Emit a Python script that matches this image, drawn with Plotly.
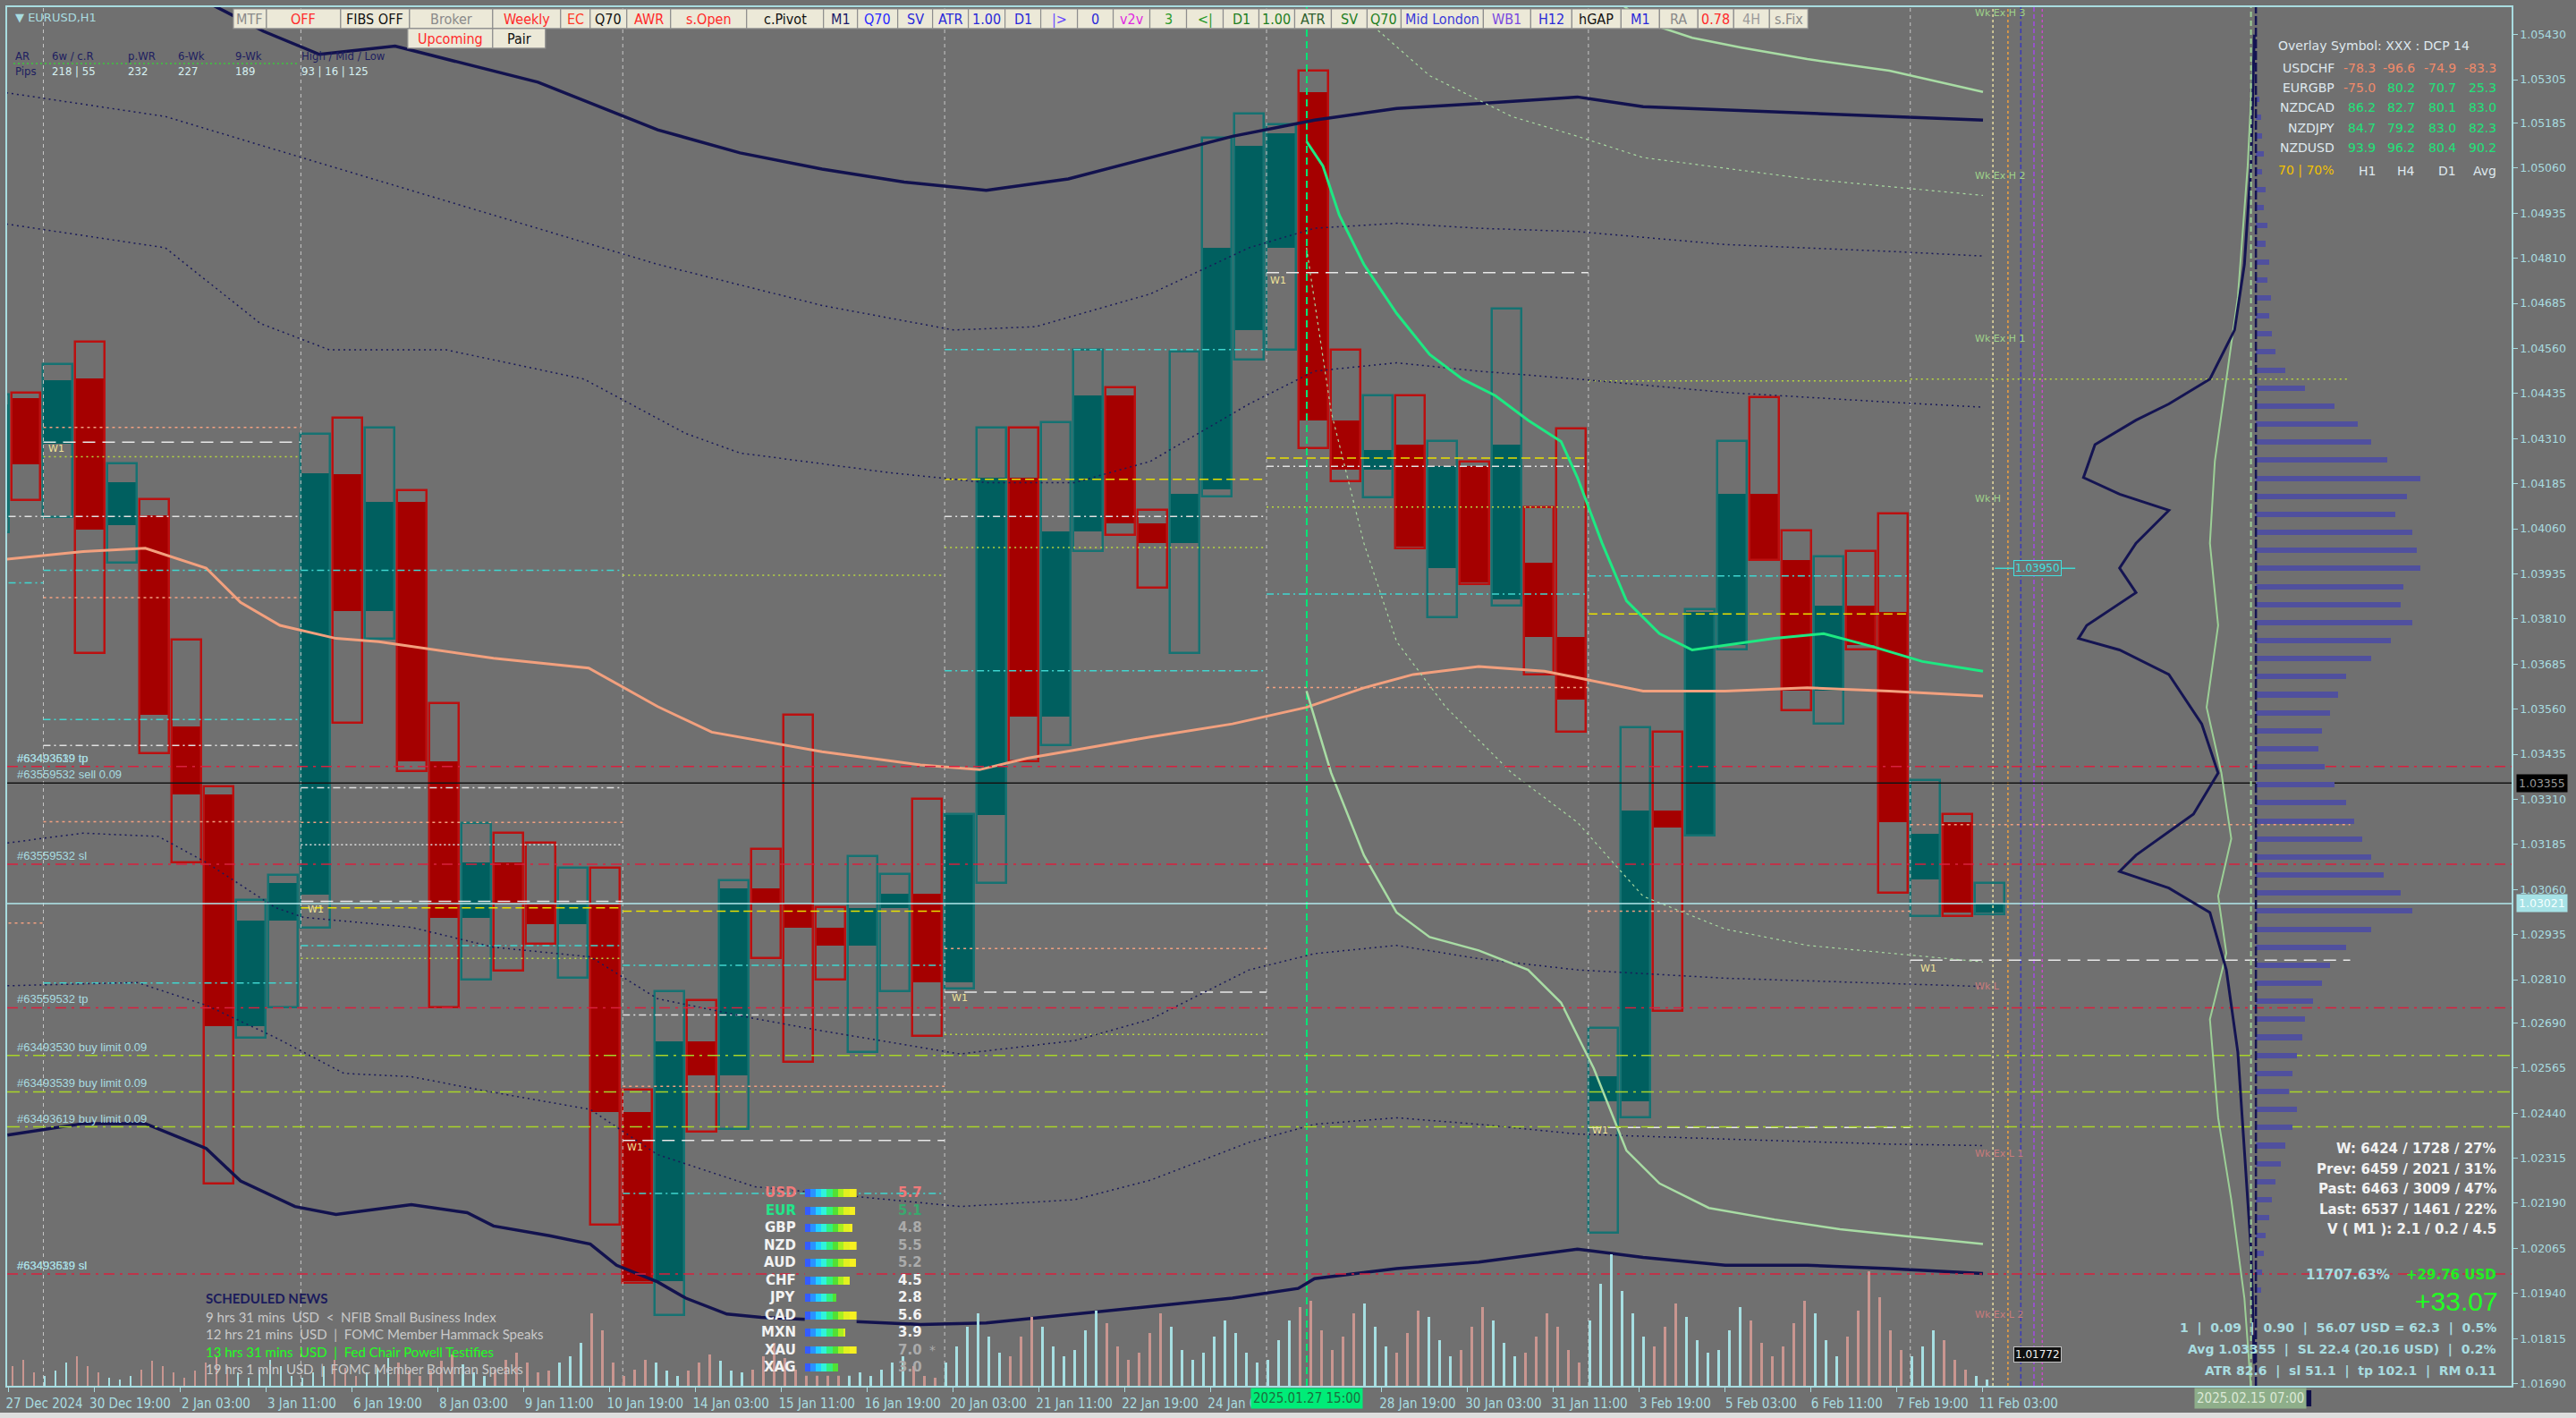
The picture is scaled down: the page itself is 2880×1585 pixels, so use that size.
import plotly.graph_objects as go

# ======================= DATA =======================
# H12 candles drawn on the H1 chart: candle k covers H1 bars 12k+1 .. 12k+12
candle_k = list(range(-1, 62))
candle_open = [1.04089, 1.04422, 1.04296, 1.04476, 1.04071, 1.04098, 1.03513, 1.03324, 1.02681, 1.02973,
               1.03045, 1.04211, 1.03833, 1.04134, 1.03414, 1.02982, 1.03135, 1.03022, 1.02964, 1.03018,
               1.02442, 1.01974, 1.02640, 1.02544, 1.03063, 1.03022, 1.02955, 1.02905, 1.03009, 1.03048,
               1.02802, 1.03266, 1.04202, 1.03540, 1.04053, 1.04429, 1.04074, 1.04020, 1.04170, 1.04611,
               1.04839, 1.05271, 1.04361, 1.04224, 1.04292, 1.03951, 1.04233, 1.03865, 1.03965, 1.03760,
               1.02473, 1.02473, 1.03278, 1.03210, 1.03738, 1.04156, 1.03974, 1.03610, 1.03847, 1.03829,
               1.03087, 1.03246, 1.02996]
candle_high = [1.04431, 1.04436, 1.04517, 1.04579, 1.04242, 1.04143, 1.03752, 1.03346, 1.03032, 1.03099,
               1.04323, 1.04368, 1.04341, 1.04166, 1.03576, 1.03243, 1.03216, 1.03189, 1.03120, 1.03120,
               1.02505, 1.02778, 1.02752, 1.03086, 1.03171, 1.03543, 1.03012, 1.03153, 1.03102, 1.03310,
               1.03270, 1.04341, 1.04341, 1.04354, 1.04556, 1.04452, 1.04111, 1.04552, 1.05143, 1.05212,
               1.05180, 1.05330, 1.04556, 1.04429, 1.04429, 1.04302, 1.04247, 1.04670, 1.04120, 1.04338,
               1.02677, 1.03510, 1.03496, 1.03838, 1.04302, 1.04425, 1.04056, 1.03983, 1.03997, 1.04101,
               1.03364, 1.03269, 1.03078]
candle_low = [1.04049, 1.04139, 1.04093, 1.03716, 1.03967, 1.03437, 1.03135, 1.02244, 1.02649, 1.02733,
              1.02955, 1.03522, 1.03756, 1.03387, 1.02733, 1.02811, 1.02834, 1.02910, 1.02815, 1.02130,
              1.01970, 1.01880, 1.02388, 1.02397, 1.02870, 1.02582, 1.02811, 1.02609, 1.02778, 1.02654,
              1.02784, 1.03077, 1.03414, 1.03459, 1.03997, 1.04042, 1.03897, 1.03715, 1.04150, 1.04529,
              1.04556, 1.04283, 1.04192, 1.04147, 1.04006, 1.03815, 1.03906, 1.03847, 1.03656, 1.03496,
              1.02109, 1.02427, 1.02723, 1.03210, 1.03724, 1.03974, 1.03556, 1.03519, 1.03724, 1.03050,
              1.02987, 1.02987, 1.02991]
candle_close = [1.04404, 1.04238, 1.04471, 1.04057, 1.04188, 1.03544, 1.03324, 1.02681, 1.02973, 1.03077,
                1.04215, 1.03833, 1.04134, 1.03414, 1.02982, 1.03135, 1.03022, 1.02964, 1.03018, 1.02442,
                1.01974, 1.02640, 1.02544, 1.03063, 1.03022, 1.02955, 1.02905, 1.03009, 1.03048, 1.02802,
                1.03266, 1.04202, 1.03540, 1.04053, 1.04429, 1.04074, 1.04020, 1.04156, 1.04839, 1.05121,
                1.05157, 1.04361, 1.04224, 1.04279, 1.04010, 1.04233, 1.03910, 1.04292, 1.03760, 1.03587,
                1.02541, 1.03278, 1.03232, 1.03829, 1.04156, 1.03974, 1.03610, 1.03847, 1.03738, 1.03246,
                1.03214, 1.02996, 1.03021]

# H1 tick volume, in groups of 4 bars starting at bar 0
tick_volume = [12, 16, 8,
               6, 9, 14, 18, 12, 8, 5, 4, 6, 10, 15, 12, 8, 5, 9, 14, 18, 12, 8, 5, 10, 16, 12, 6,
               5, 8, 12, 16, 11, 6, 8, 11, 17, 14, 9, 6, 9, 15, 19, 13, 8, 6, 10, 16, 20, 14, 8, 9, 14, 18, 26, 44, 34, 14,
               6, 10, 16, 14, 9, 6, 9, 14, 19, 15, 9, 8, 10, 18, 26, 17, 10, 8, 9, 15, 19, 13, 8, 6, 10, 14, 18, 12, 6, 5,
               14, 24, 36, 44, 30, 20, 18, 30, 42, 36, 24, 18, 22, 34, 46, 38, 24, 16, 20, 32, 44, 36, 22, 16, 20, 30, 40, 32, 20, 14,
               16, 28, 40, 48, 52, 34, 22, 30, 44, 50, 36, 24, 20, 32, 46, 42, 28, 18, 22, 36, 48, 40, 26, 18, 20, 30, 44, 36, 22, 14,
               40, 62, 80, 58, 44, 30, 24, 36, 50, 42, 28, 20, 22, 34, 48, 40, 26, 18, 24, 38, 52, 44, 28, 18, 30, 46, 70, 54, 34, 22,
               18, 24, 34, 28, 16, 10, 6, 4]

# axis labels
price_ticks = [1.05430, 1.05305, 1.05185, 1.05060, 1.04935, 1.04810, 1.04685, 1.04560, 1.04435, 1.04310,
               1.04185, 1.04060, 1.03935, 1.03810, 1.03685, 1.03560, 1.03435, 1.03310, 1.03185, 1.03060,
               1.02935, 1.02810, 1.02690, 1.02565, 1.02440, 1.02315, 1.02190, 1.02065, 1.01940, 1.01815, 1.01690]
time_tick_bars = [0, 32, 64, 96, 128, 160, 192, 224, 256, 288, 320, 352, 384, 416, 448,
                  512, 544, 576, 608, 640, 672, 704, 736]
time_tick_text = ["27 Dec 2024", "30 Dec 19:00", "2 Jan 03:00", "3 Jan 11:00", "6 Jan 19:00", "8 Jan 03:00",
                  "9 Jan 11:00", "10 Jan 19:00", "14 Jan 03:00", "15 Jan 11:00", "16 Jan 19:00", "20 Jan 03:00",
                  "21 Jan 11:00", "22 Jan 19:00", "24 Jan 03:00", "28 Jan 19:00", "30 Jan 03:00", "31 Jan 11:00",
                  "3 Feb 19:00", "5 Feb 03:00", "6 Feb 11:00", "7 Feb 19:00", "11 Feb 03:00"]
week_start_bars = [13, 109, 229, 349, 469, 589, 709]

# indicator lines (bar index, price)
navy_up_bar = [-2.3, 34.4, 74.2, 95.6, 116.4, 129.3, 144.6, 156.8, 181.3, 197.9, 242.5, 273.2, 303.8, 334.4,
               365.0, 395.6, 426.2, 456.8, 487.4, 518.0, 548.6, 585.4, 609.9, 671.1, 736.6]
navy_up_price = [1.05748, 1.05658, 1.05521, 1.05439, 1.05375, 1.05385, 1.05398, 1.05375, 1.05330, 1.05298,
                 1.05166, 1.05102, 1.05057, 1.05021, 1.04998, 1.05030, 1.05089, 1.05148, 1.05193, 1.05225,
                 1.05239, 1.05257, 1.05230, 1.05212, 1.05193]
navy_lo_bar = [0.1, 28.3, 51.5, 74.2, 87.0, 107.3, 122.6, 150.7, 171.5, 181.3, 202.2, 217.4, 227.2, 242.5,
               253.0, 268.3, 281.1, 303.8, 340.5, 365.0, 395.6, 426.2, 456.8, 481.3, 487.4, 518.0, 548.6,
               585.4, 609.9, 640.5, 671.1, 701.7, 736.6]
navy_lo_price = [1.02379, 1.02411, 1.02411, 1.02342, 1.02252, 1.02181, 1.02159, 1.02186, 1.02164, 1.02127,
                 1.02100, 1.02077, 1.02018, 1.01972, 1.01927, 1.01883, 1.01874, 1.01867, 1.01854, 1.01858,
                 1.01881, 1.01904, 1.01927, 1.01954, 1.01981, 1.02009, 1.02027, 1.02063, 1.02040, 1.02018,
                 1.02018, 1.02009, 1.01995]
band_u1_bar = [-2.3, 58.9, 120.1, 181.3, 242.5, 303.8, 352.8, 383.4, 426.2, 463.0, 487.4, 518.0, 548.6,
               585.4, 640.5, 701.7, 736.6]
band_u1_price = [1.05271, 1.05203, 1.05066, 1.04930, 1.04793, 1.04679, 1.04611, 1.04620, 1.04711, 1.04839,
                 1.04893, 1.04907, 1.04893, 1.04884, 1.04848, 1.04829, 1.04816]
band_u2_bar = [-2.3, 58.9, 94.4, 120.1, 163.6, 215.0, 253.0, 273.2, 329.5, 365.0, 398.0, 426.2, 463.0,
               487.4, 518.0, 548.6, 585.4, 640.5, 701.7, 736.6]
band_u2_price = [1.04907, 1.04839, 1.04629, 1.04556, 1.04556, 1.04475, 1.04324, 1.04270, 1.04215, 1.04188,
                 1.04188, 1.04247, 1.04406, 1.04497, 1.04520, 1.04497, 1.04475, 1.04438, 1.04411, 1.04397]
band_l1_bar = [0.1, 28.3, 56.4, 74.2, 99.9, 110.3, 150.7, 181.3, 217.4, 242.5, 278.7, 303.8, 355.2, 398.0,
               426.2, 463.0, 487.4, 518.0, 548.6, 585.4, 640.5, 701.7, 736.6]
band_l1_price = [1.03189, 1.03216, 1.03207, 1.03135, 1.03010, 1.02983, 1.02955, 1.02900, 1.02873, 1.02757,
                 1.02702, 1.02668, 1.02604, 1.02641, 1.02700, 1.02837, 1.02882, 1.02905, 1.02868, 1.02837,
                 1.02814, 1.02800, 1.02791]
band_l2_bar = [0.1, 48.5, 74.2, 99.9, 125.6, 150.7, 176.4, 217.4, 242.5, 278.7, 355.2, 398.0, 426.2, 463.0,
               487.4, 518.0, 548.6, 585.4, 640.5, 701.7, 736.6]
band_l2_price = [1.02793, 1.02802, 1.02739, 1.02650, 1.02550, 1.02541, 1.02504, 1.02450, 1.02325, 1.02236,
                 1.02181, 1.02200, 1.02254, 1.02359, 1.02409, 1.02427, 1.02409, 1.02382, 1.02368, 1.02354, 1.02350]
ma_bar = [-2.3, 28.3, 51.5, 74.2, 87.0, 101.7, 122.6, 138.5, 181.3, 216.8, 242.5, 262.7, 303.8, 340.5,
          362.5, 380.3, 401.7, 426.2, 456.8, 484.4, 505.8, 524.2, 548.6, 573.1, 585.4, 609.9, 640.5,
          671.1, 701.7, 736.6]
ma_price = [1.03974, 1.03997, 1.04006, 1.03951, 1.03856, 1.03792, 1.03756, 1.03747, 1.03701, 1.03674,
            1.03567, 1.03496, 1.03442, 1.03405, 1.03392, 1.03424, 1.03451, 1.03483, 1.03519, 1.03565,
            1.03619, 1.03656, 1.03678, 1.03665, 1.03647, 1.03610, 1.03610, 1.03619, 1.03610, 1.03596]
vwap_bar = [484.4, 490.5, 496.6, 505.8, 518.0, 530.3, 542.5, 554.8, 567.0, 579.3, 585.4, 594.6, 603.7,
            616.0, 628.2, 640.5, 658.9, 677.2, 695.6, 714.0, 736.6]
vwap_price = [1.05134, 1.05066, 1.04930, 1.04793, 1.04657, 1.04543, 1.04475, 1.04429, 1.04361, 1.04302,
              1.04202, 1.04020, 1.03860, 1.03769, 1.03724, 1.03737, 1.03756, 1.03769, 1.03733, 1.03692, 1.03665]
vw_up_bar = [585.4, 600.7, 609.9, 628.2, 646.6, 671.1, 701.7, 736.6]
vw_up_price = [1.05658, 1.05521, 1.05466, 1.05421, 1.05394, 1.05362, 1.05330, 1.05271]
vw_up2_bar = [505.8, 530.3, 560.9, 585.4, 609.9, 671.1, 736.6]
vw_up2_price = [1.05476, 1.05316, 1.05203, 1.05148, 1.05089, 1.05030, 1.04984]
vw_lo_bar = [484.4, 493.6, 505.8, 518.0, 530.3, 548.6, 567.0, 579.3, 591.5, 603.7, 616.0, 634.4, 658.9,
             683.3, 707.8, 736.6]
vw_lo_price = [1.03610, 1.03383, 1.03155, 1.02996, 1.02928, 1.02891, 1.02837, 1.02746, 1.02564, 1.02336,
               1.02245, 1.02177, 1.02145, 1.02118, 1.02099, 1.02077]
vw_lo2_bar = [484.4, 493.6, 505.8, 518.0, 536.4, 560.9, 585.4, 609.9, 640.5, 671.1, 736.6]
vw_lo2_price = [1.04839, 1.04384, 1.04020, 1.03747, 1.03565, 1.03383, 1.03246, 1.03041, 1.02950, 1.02905, 1.02859]

# weekly level segments: start bar, end bar, price, style
lvl_start = [0, 0, 0,
             13, 13, 13, 13, 13, 13, 13, 13, 13, 13,
             109, 109, 109, 109, 109, 109, 109, 109,
             229, 229, 229, 229, 229, 229, 229,
             349, 349, 349, 349, 349, 349, 349, 349,
             469, 469, 469, 469, 469, 469,
             589, 589, 589, 589, 589,
             709, 709, 709]
lvl_end = [13, 13, 13,
           109, 109, 109, 109, 109, 109, 109, 109, 109, 109,
           229, 229, 229, 229, 229, 229, 229, 229,
           349, 349, 349, 349, 349, 349, 349,
           469, 469, 469, 469, 469, 469, 469, 469,
           589, 589, 589, 589, 589, 589,
           709, 709, 709, 709, 709,
           873, 873, 873]
lvl_price = [1.04094, 1.03910, 1.02967,
             1.04341, 1.04300, 1.04260, 1.04094, 1.03945, 1.03869, 1.03531, 1.03459, 1.03248, 1.02801,
             1.03342, 1.03184, 1.03027, 1.03009, 1.02904, 1.02869, 1.03945, 1.03246,
             1.03931, 1.03000, 1.02850, 1.02712, 1.02514, 1.02364, 1.02217,
             1.04557, 1.04197, 1.04094, 1.04008, 1.03666, 1.02896, 1.02775, 1.02658,
             1.04770, 1.04256, 1.04233, 1.03879, 1.04120, 1.03620,
             1.03824, 1.03929, 1.02400, 1.04470, 1.03000,
             1.02864, 1.04475, 1.03240]
lvl_kind = ["wdd", "cyan", "salmon",
            "salmon", "wlong", "yg", "wdd", "cyan", "salmon", "cyan", "wdd", "salmon", "cyan",
            "wdd", "wdot", "wlong", "yellow", "cyan", "yg", "cyan", "salmon",
            "yg", "yellow", "cyan", "wdd", "salmon", "wlong", "cyan",
            "cyan", "yellow", "wdd", "yg", "cyan", "salmon", "wlong", "yg",
            "wlong", "yellow", "wdd", "cyan", "yg", "salmon",
            "yellow", "cyan", "wlong", "yg", "salmon",
            "wlong", "yg", "salmon"]

order_tp_sl_prices = [1.03401, 1.03130, 1.02732, 1.01994]
buy_limit_prices = [1.02600, 1.02499, 1.02402]
sell_open_price = 1.03355
bid_price = 1.03021

# market profile (price level -> volume), drawn from its time line
profile_price = [1.0525, 1.0520, 1.0515, 1.0510, 1.0505, 1.0500, 1.0495, 1.0490, 1.0485, 1.0480,
                 1.0475, 1.0470, 1.0465, 1.0460, 1.0455, 1.0450, 1.0445, 1.0440, 1.0435, 1.0430,
                 1.0425, 1.0420, 1.0415, 1.0410, 1.0405, 1.0400, 1.0395, 1.0390, 1.0385, 1.0380,
                 1.0375, 1.0370, 1.0365, 1.0360, 1.0355, 1.0350, 1.0345, 1.0340, 1.0335, 1.0330,
                 1.0325, 1.0320, 1.0315, 1.0310, 1.0305, 1.0300, 1.0295, 1.0290, 1.0285, 1.0280,
                 1.0275, 1.0270, 1.0265, 1.0260, 1.0255, 1.0250, 1.0245, 1.0240, 1.0235, 1.0230,
                 1.0225, 1.0220, 1.0215, 1.0210, 1.0205, 1.0200, 1.0195]
profile_vol = [2, 3, 4, 5, 4, 6, 5, 7, 6, 8, 7, 9, 8, 10, 12, 18, 30, 48, 62, 70,
               80, 100, 92, 85, 95, 98, 100, 90, 88, 95, 82, 70, 55, 50, 45, 40, 38, 42, 48, 55,
               60, 65, 70, 78, 88, 95, 70, 55, 45, 40, 35, 30, 28, 25, 22, 20, 25, 22, 18, 15,
               12, 10, 8, 6, 5, 4, 3]
curve_price = [1.05430, 1.05066, 1.04793, 1.04611, 1.04475, 1.04406, 1.04361, 1.04293, 1.04202, 1.04156,
               1.04111, 1.04020, 1.03951, 1.03883, 1.03792, 1.03756, 1.03724, 1.03656, 1.03519, 1.03383,
               1.03269, 1.03155, 1.03110, 1.03064, 1.02996, 1.02837, 1.02609, 1.02336, 1.02063, 1.01745]
curve_vol = [1, 3, 7, 13, 28, 53, 73, 98, 105, 83, 53, 73, 83, 73, 103, 108, 83, 53, 33, 23,
             38, 73, 83, 53, 28, 18, 11, 7, 3, 1]
curve2_price = [1.05430, 1.05066, 1.04702, 1.04475, 1.04247, 1.04020, 1.03792, 1.03565, 1.03383, 1.03201,
                1.03042, 1.02883, 1.02700, 1.02427, 1.02200, 1.01927, 1.01677]
curve2_vol = [1, 5, 11, 18, 25, 28, 23, 30, 21, 15, 23, 18, 28, 23, 15, 7, 3]

# currency strength panel
cur_names = ["USD", "EUR", "GBP", "NZD", "AUD", "CHF", "JPY", "CAD", "MXN", "XAU", "XAG"]
cur_vals = [5.7, 5.1, 4.8, 5.5, 5.2, 4.5, 2.8, 5.6, 3.9, 7.0, 3.0]
cur_name_colors = ["#f07a7a", "#22e58a"] + ["#f2f2f2"] * 9
cur_val_colors = ["#f07a7a", "#3aa86e", "#ababab", "#ababab", "#ababab", "#f2f2f2", "#f2f2f2",
                  "#f2f2f2", "#f2f2f2", "#ababab", "#ababab"]

overlay_symbols = ["USDCHF", "EURGBP", "NZDCAD", "NZDJPY", "NZDUSD"]
overlay_vals = [[-78.3, -96.6, -74.9, -83.3], [-75.0, 80.2, 70.7, 25.3], [86.2, 82.7, 80.1, 83.0],
                [84.7, 79.2, 83.0, 82.3], [93.9, 96.2, 80.4, 90.2]]

news_lines = ["9 hrs 31 mins\u00a0 USD\u00a0 &lt;\u00a0 NFIB Small Business Index",
              "12 hrs 21 mins\u00a0 USD\u00a0 |\u00a0 FOMC Member Hammack Speaks",
              "13 hrs 31 mins\u00a0 USD\u00a0 |\u00a0 Fed Chair Powell Testifies",
              "19 hrs 1 min\u00a0 USD\u00a0 |\u00a0 FOMC Member Bowman Speaks"]
news_colors = ["#c9c9c9", "#c9c9c9", "#22ff22", "#c9c9c9"]

stats_lines = ["W: 6424 / 1728 / 27%", "Prev: 6459 / 2021 / 31%", "Past: 6463 / 3009 / 47%",
               "Last: 6537 / 1461 / 22%", "V ( M1 ): 2.1 / 0.2 / 4.5"]
trade_lines = ["1\u00a0 |\u00a0 0.09\u00a0 |\u00a0 0.90\u00a0 |\u00a0 56.07 USD = 62.3\u00a0 |\u00a0 0.5%",
               "Avg 1.03355\u00a0 |\u00a0 SL 22.4 (20.16 USD)\u00a0 |\u00a0 0.2%",
               "ATR 82.6\u00a0 |\u00a0 sl 51.1\u00a0 |\u00a0 tp 102.1\u00a0 |\u00a0 RM 0.11"]

btn_labels = ["MTF", "OFF", "FIBS OFF", "Broker", "Weekly", "EC", "Q70", "AWR", "s.Open", "c.Pivot", "M1",
              "Q70", "SV", "ATR", "1.00", "D1", "|&gt;", "0", "v2v", "3", "&lt;|", "D1", "1.00", "ATR", "SV",
              "Q70", "Mid London", "WB1", "H12", "hGAP", "M1", "RA", "0.78", "4H", "s.Fix"]
btn_colors = ["#8a8a8a", "#ff2a2a", "#111111", "#8a8a8a", "#ff2a2a", "#ff3a2a", "#111111", "#ff2a2a",
              "#ff2a2a", "#111111", "#1a1a6a", "#2a2aff", "#2a2ad8", "#2a2ad8", "#2a2ad8", "#2a2ad8",
              "#6a4aff", "#2a2ad8", "#e02ae0", "#2a9a2a", "#2a9a2a", "#1f7f1f", "#1f7f1f", "#2f5f2f",
              "#1f7f1f", "#1f7f1f", "#3a3ad8", "#7a4ae0", "#2a2ad8", "#111111", "#2a2ad8", "#8a8a8a",
              "#ff2a2a", "#9a9a9a", "#8a8a8a"]
btn_edges = [260, 297, 380, 457, 550, 626, 659, 700, 749, 834, 920, 958, 1003, 1042, 1082, 1123, 1163, 1204,
             1244, 1285, 1326, 1367, 1407, 1447, 1488, 1528, 1566, 1658, 1711, 1757, 1812, 1855, 1898, 1938,
             1978, 2021]
btn2_labels = ["Upcoming", "Pair"]
btn2_colors = ["#ff2a2a", "#111111"]
btn2_edges = [455, 550, 609]

# ======================= LAYOUT HELPERS =======================
W, H = 2880, 1585
ML, MR, MT, MB = 7, 72, 6, 36
PW, PH = W - ML - MR, H - MT - MB
X_MAX = PW / 3.0
P_TOP, P_BOT = 1.05506, 1.01684
BG = "#707070"
AXC = "#a8dce0"
F_MAIN = "DejaVu Sans, Verdana, sans-serif"
F_NARROW = "Liberation Sans Narrow, DejaVu Sans Condensed, Liberation Sans, sans-serif"
F_NEWS = "Lato, Open Sans, sans-serif"


def xp(px):
    return (px - ML) / PW


def yp(py):
    return (H - MB - py) / PH


fig = go.Figure()
annotations = []
shapes = []


def text(t, x, y, color, size=13, xanchor="left", yanchor="middle", xref="paper", yref="paper",
         family=F_MAIN, **kw):
    annotations.append(dict(text=t, x=x, y=y, xref=xref, yref=yref, xanchor=xanchor, yanchor=yanchor,
                            showarrow=False, font=dict(color=color, size=size, family=family), **kw))


def vline(xv, color, dash, width=1, xaxis="x"):
    fig.add_trace(go.Scatter(x=[xv, xv], y=[P_BOT, P_TOP], mode="lines", xaxis=xaxis,
                             line=dict(color=color, width=width, dash=dash), hoverinfo="skip"))


def pline(xs, ys, color, width=1, dash="solid"):
    fig.add_trace(go.Scatter(x=xs, y=ys, mode="lines", line=dict(color=color, width=width, dash=dash),
                             hoverinfo="skip"))


# ======================= TRACES =======================
for b in week_start_bars:
    vline(b + 0.5, "#c6c6c6", "4px,4px")
for b, c, d in [(740.3, "#e6dca0", "3px,3px"), (745.9, "#f0a040", "3px,3px"), (750.7, "#3a3ab8", "5px,3px"),
                (755.6, "#a24ae6", "5px,3px"), (758.7, "#c84ac8", "3px,3px")]:
    vline(b, c, d, width=1.5)
vline(484.5, "#00e676", "8px,5px", width=2)

kind_style = {"wlong": ("#e8e8e8", "14px,8px"), "wdd": ("#e0e0e0", "8px,4px,2px,4px"),
              "wdot": ("#e0e0e0", "2px,3px"), "cyan": ("#3fd6d0", "8px,4px,2px,4px"),
              "salmon": ("#f2a080", "3px,4px"), "yg": ("#b8d840", "2px,4px"), "yellow": ("#e8e000", "10px,5px")}
for s, e, p, k in zip(lvl_start, lvl_end, lvl_price, lvl_kind):
    c, d = kind_style[k]
    pline([s + 0.5, e + 0.5], [p, p], c, width=1.5, dash=d)

# tick volume histogram
vol_x = [4 * g + 2 for g in range(len(tick_volume))]
vol_col = []
for xv in vol_x:
    i = (xv - 1) // 12 + 1
    vol_col.append("#a6dfe2" if candle_close[i] >= candle_open[i] else "#c99690")
fig.add_trace(go.Bar(x=vol_x, y=tick_volume, yaxis="y3", width=0.9, marker=dict(color=vol_col, line_width=0),
                     hoverinfo="skip"))

# market profile
fig.add_trace(go.Bar(y=profile_price, x=profile_vol, base=0, orientation="h", xaxis="x2", width=0.00015,
                     marker=dict(color="#50509e", line_width=0), hoverinfo="skip"))
fig.add_trace(go.Scatter(x=[-v for v in curve2_vol], y=curve2_price, xaxis="x2", mode="lines",
                         line=dict(color="#9ccf96", width=2), hoverinfo="skip"))
fig.add_trace(go.Scatter(x=[-v for v in curve_vol], y=curve_price, xaxis="x2", mode="lines",
                         line=dict(color="#141452", width=3), hoverinfo="skip"))
vline(-3, "#9ccf96", "6px,4px", width=2, xaxis="x2")
vline(0, "#141452", "10px,3px", width=2.5, xaxis="x2")

# H12 candles: body (open-close) + range box (high-low)
cx = [12 * k + 7 for k in candle_k]
bull_flags = [c >= o for o, c in zip(candle_open, candle_close)]
body_base = [min(o, c) for o, c in zip(candle_open, candle_close)]
body_h = [max(abs(c - o), 0.00003) for o, c in zip(candle_open, candle_close)]
fig.add_trace(go.Bar(x=cx, y=body_h, base=body_base, width=11.0,
                     marker=dict(color=["#005f5f" if b else "#a50000" for b in bull_flags], line_width=0),
                     hoverinfo="skip"))
fig.add_trace(go.Bar(x=cx, y=[h - l for h, l in zip(candle_high, candle_low)], base=candle_low, width=11.0,
                     marker=dict(color="rgba(0,0,0,0)",
                                 line=dict(color=["#167272" if b else "#bb1010" for b in bull_flags], width=2.5)),
                     hoverinfo="skip"))

# indicator lines
pline(band_u1_bar, band_u1_price, "#1a1a5a", 1.5, "2px,4px")
pline(band_u2_bar, band_u2_price, "#1a1a5a", 1.5, "2px,4px")
pline(band_l1_bar, band_l1_price, "#1a1a5a", 1.5, "2px,4px")
pline(band_l2_bar, band_l2_price, "#1a1a5a", 1.5, "2px,4px")
pline(navy_up_bar, navy_up_price, "#12124e", 3.5)
pline(navy_lo_bar, navy_lo_price, "#12124e", 3.5)
pline(ma_bar, ma_price, "#f2a07e", 3)
pline(vw_up2_bar, vw_up2_price, "#a8d8a0", 1.2, "3px,4px")
pline(vw_lo2_bar, vw_lo2_price, "#a8d8a0", 1.2, "3px,4px")
pline(vw_up_bar, vw_up_price, "#a8dca4", 2.5)
pline(vw_lo_bar, vw_lo_price, "#a8dca4", 2.5)
pline(vwap_bar, vwap_price, "#1de982", 3)

# order lines
for p in order_tp_sl_prices:
    pline([0, X_MAX], [p, p], "#d8203e", 1.5, "12px,6px,3px,6px")
for p in buy_limit_prices:
    pline([0, X_MAX], [p, p], "#a8d428", 1.5, "14px,6px,3px,6px")
pline([0, X_MAX], [sell_open_price, sell_open_price], "#141414", 1.5)
pline([0, X_MAX], [bid_price, bid_price], "#b2e8ec", 1.5)
pline([741, 771], [1.03950, 1.03950], "#3fd6d0", 1.5)

# currency strength gradient bars
grad = [(1.00, "#f6f020"), (0.86, "#e2f020"), (0.74, "#a6ee22"), (0.63, "#52e034"), (0.53, "#32f07e"),
        (0.42, "#30f2dc"), (0.31, "#22cfff"), (0.20, "#2a92ff"), (0.10, "#345cff")]
C_LO, C_HI = -1.09, 5.35
rows = list(range(len(cur_names)))
for f, col in grad:
    e = C_LO + f * (C_HI - C_LO)
    fig.add_trace(go.Bar(y=rows, x=[min(v, e) - C_LO for v in cur_vals], base=C_LO, orientation="h",
                         xaxis="x3", yaxis="y4", width=0.46, marker=dict(color=col, line_width=0),
                         hoverinfo="skip"))

# ======================= TEXT =======================
text("\u25bc EURUSD,H1", xp(14), yp(18), AXC, 13)
ar_cols = [14, 55, 140, 196, 260, 334]
ar_head = ["AR", "6w / c.R", "p.WR", "6-Wk", "9-Wk", "High / Mid / Low"]
ar_vals = ["Pips", "218 | 55", "232", "227", "189", "93\u00a0|\u00a016\u00a0|\u00a0125"]
for xc, h1, v1 in zip(ar_cols, ar_head, ar_vals):
    text(h1, xp(xc), yp(61), "#1e1e60", 13, family=F_NARROW)
    text(v1, xp(xc), yp(78), "#1e1e60" if v1 == "Pips" else "#d6f0f2", 13, family=F_NARROW)
shapes.append(dict(type="line", xref="paper", yref="paper", x0=xp(14), x1=xp(332), y0=yp(69), y1=yp(69),
                   line=dict(color="#3cc83c", width=1.5, dash="2px,3px")))

for i, (lab, col) in enumerate(zip(btn_labels, btn_colors)):
    x0, x1 = btn_edges[i], btn_edges[i + 1]
    shapes.append(dict(type="rect", xref="paper", yref="paper", x0=xp(x0), x1=xp(x1), y0=yp(30), y1=yp(8),
                       fillcolor="#ece9d8", line=dict(color="#8e8e8e", width=1.2)))
    text(lab, xp((x0 + x1) / 2), yp(19.5), col, 16, xanchor="center", family=F_NARROW)
for i, (lab, col) in enumerate(zip(btn2_labels, btn2_colors)):
    x0, x1 = btn2_edges[i], btn2_edges[i + 1]
    shapes.append(dict(type="rect", xref="paper", yref="paper", x0=xp(x0), x1=xp(x1), y0=yp(52), y1=yp(30),
                       fillcolor="#ece9d8", line=dict(color="#8e8e8e", width=1.2)))
    text(lab, xp((x0 + x1) / 2), yp(41.5), col, 16, xanchor="center", family=F_NARROW)

text("Overlay Symbol: XXX : DCP 14", xp(2545), yp(49), "#dfe8ee", 14)
col_right = [2658, 2702, 2748, 2793]
row_y = [74, 96, 118, 141, 163]
for sym, vals, yy in zip(overlay_symbols, overlay_vals, row_y):
    text(sym, xp(2612), yp(yy), "#dfe8ee", 14, xanchor="right")
    for v, xr in zip(vals, col_right):
        text(f"{v:.1f}", xp(xr), yp(yy), "#f08a6a" if v < 0 else "#22e27a", 14, xanchor="right")
text("70 | 70%", xp(2612), yp(189), "#f2c200", 14, xanchor="right")
for lab, xr in zip(["H1", "H4", "D1", "Avg"], col_right):
    text(lab, xp(xr), yp(189), "#dfe8ee", 14, xanchor="right")

ord_labels = [("#63493619 tp", 1.03401), ("#63493539 tp", 1.03401), ("#63559532 sell 0.09", 1.03355),
              ("#63559532 sl", 1.03130), ("#63559532 tp", 1.02732), ("#63493530 buy limit 0.09", 1.02600),
              ("#63493539 buy limit 0.09", 1.02499), ("#63493619 buy limit 0.09", 1.02402),
              ("#63493619 sl", 1.01994), ("#63493539 sl", 1.01994)]
for t, p in ord_labels:
    text(t, xp(16), p, "#a8dce0", 13, yanchor="bottom", yref="y", family="Liberation Sans, Arial, sans-serif")

for b, p in [(14.8, 1.04283), (111.5, 1.03005), (230.3, 1.02345), (351.5, 1.02759), (470.3, 1.04748),
             (590.3, 1.02391), (712.7, 1.02841)]:
    text("W1", b, p, "#efe39a", 11, xref="x", yref="y")
for t, p, c in [("Wk Ex H 3", 1.05489, "#9fd28a"), ("Wk Ex H 2", 1.05039, "#9fd28a"),
                ("Wk Ex H 1", 1.04588, "#9fd28a"), ("Wk H", 1.04142, "#9fd28a"), ("Wk L", 1.02791, "#c97b7b"),
                ("Wk Ex L 1", 1.02327, "#c97b7b"), ("Wk Ex L 2", 1.01881, "#c97b7b")]:
    text(t, 733, p, c, 11, xref="x", yref="y")
text("1.03950", 757, 1.03950, "#40e0e0", 12, xanchor="center", xref="x", yref="y",
     bgcolor=BG, bordercolor="#40e0e0", borderwidth=1, borderpad=1)
text("1.01772", 757, 1.01772, "#f0f0f0", 12, xanchor="center", xref="x", yref="y",
     bgcolor="#101010", bordercolor="#c0c0c0", borderwidth=1, borderpad=1)

text("1.03355", xp(2813), sell_open_price, "#9a9a9a", 12.5, yref="y", bgcolor="#000000", borderpad=2)
text("1.03021", xp(2813), bid_price, "#f4ffff", 12.5, yref="y", bgcolor="#a6e2e6", borderpad=2)
text("2025.01.27 15:00", 484.5, yp(1563), "#1c6e3e", 15, xanchor="center", xref="x", family=F_NARROW,
     bgcolor="#00ec78", borderpad=2)
text("2025.02.15 07:00", xp(2516), yp(1563), "#dbe8d6", 15, xanchor="center", family=F_NARROW,
     bgcolor="#8eae8a", borderpad=2)

text("<b>SCHEDULED NEWS</b>", xp(227), yp(1451), "#1b1b5c", 15, family=F_NEWS)
for i, (t, c) in enumerate(zip(news_lines, news_colors)):
    text(t, xp(227), yp(1472 + i * 19.3), c, 15, family=F_NEWS)

for i, (n, v, nc, vc) in enumerate(zip(cur_names, cur_vals, cur_name_colors, cur_val_colors)):
    text(f"<b>{n}</b>", xp(891), i, nc, 15, xanchor="right", yref="y4")
    text(f"<b>{v:.1f}</b>", xp(1032), i, vc, 15, xanchor="right", yref="y4")
text("*", xp(1036), 9, "#ababab", 14, yref="y4")

for i, t in enumerate(stats_lines):
    text(f"<b>{t}</b>", xp(2793), yp(1284 + i * 22.5), "#f2f2f2", 15, xanchor="right")
text("<b>11707.63%</b>", xp(2625), yp(1425), "#a8dce0", 15, xanchor="center")
text("<b>+29.76 USD</b>", xp(2793), yp(1425), "#22ee22", 15, xanchor="right")
text("+33.07", xp(2795), yp(1454), "#22ff22", 30, xanchor="right", family="Liberation Sans, Arial, sans-serif")
for i, t in enumerate(trade_lines):
    text(f"<b>{t}</b>", xp(2793), yp(1484 + i * 24), "#a8dce0", 14, xanchor="right")

shapes.append(dict(type="rect", xref="paper", yref="paper", x0=-0.01, x1=1.03, y0=yp(1585), y1=yp(1579),
                   fillcolor="#dedede", line_width=0, layer="above"))
shapes.append(dict(type="rect", xref="paper", yref="paper", x0=xp(2578), x1=xp(2584), y0=yp(1572), y1=yp(1554),
                   fillcolor="#101048", line_width=0))

# ======================= AXES / LAYOUT =======================
fig.update_layout(
    width=W, height=H, margin=dict(l=ML, r=MR, t=MT, b=MB, pad=0),
    paper_bgcolor=BG, plot_bgcolor=BG, showlegend=False, barmode="overlay", bargap=0,
    hovermode=False, annotations=annotations, shapes=shapes,
    xaxis=dict(range=[0, X_MAX], tickmode="array", tickvals=[b + 0.5 for b in time_tick_bars],
               ticktext=time_tick_text, ticks="outside", ticklen=5, tickcolor=AXC, showgrid=False,
               zeroline=False, showline=True, linecolor=AXC, linewidth=1.5, mirror=True,
               tickfont=dict(color=AXC, size=15, family=F_NARROW), ticklabelshift=40),
    yaxis=dict(range=[P_BOT, P_TOP], side="right", tickmode="array", tickvals=price_ticks,
               ticktext=[f"{v:.5f}" for v in price_ticks], ticks="outside", ticklen=5, tickcolor=AXC,
               showgrid=False, zeroline=False, showline=True, linecolor=AXC, linewidth=1.5, mirror=True,
               tickfont=dict(color=AXC, size=12.5, family=F_MAIN)),
    xaxis2=dict(overlaying="x", anchor="y", range=[-1369.3, 155.7], visible=False),
    yaxis3=dict(overlaying="y", anchor="x", range=[0, 840], visible=False),
    xaxis3=dict(domain=[xp(899), xp(957)], anchor="y4", range=[C_LO, C_HI], visible=False),
    yaxis4=dict(domain=[yp(1537.75), yp(1323.25)], anchor="x3", range=[10.5, -0.5], visible=False),
)

fig.write_html("out.html", config={"displayModeBar": False},
               post_script="document.body.style.margin='0';document.body.style.overflow='hidden';")
